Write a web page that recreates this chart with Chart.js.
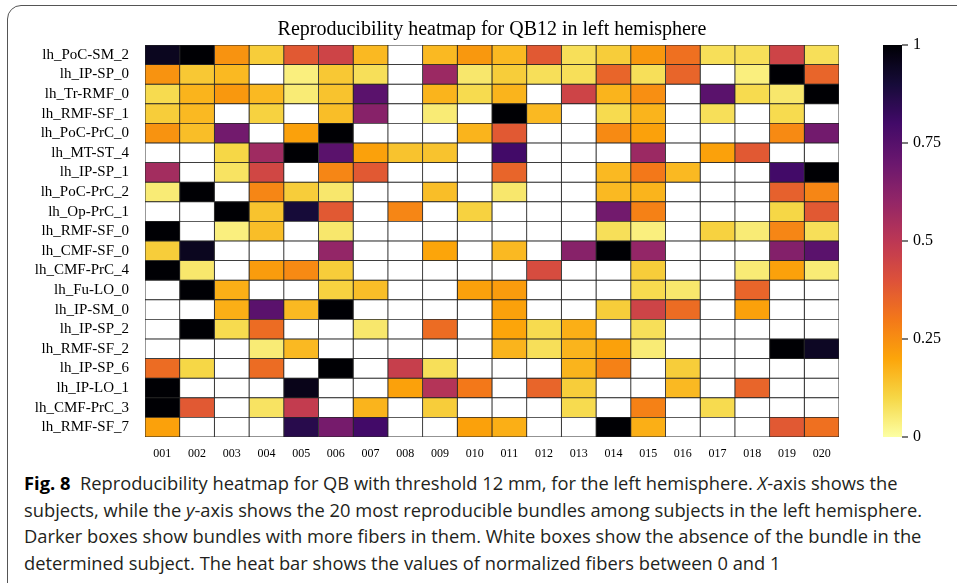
<!DOCTYPE html>
<html>
<head>
<meta charset="utf-8">
<script src="https://cdn.jsdelivr.net/npm/chart.js@4.4.1/dist/chart.umd.min.js"></script>
<style>
  html, body { margin: 0; padding: 0; background: #fff; }
  body { width: 957px; height: 583px; overflow: hidden; position: relative; }
  #frame { position: absolute; left: 7px; top: 5px; width: 990px; height: 640px; border: 1.5px solid #555; border-radius: 14px; box-sizing: border-box; }
  #wrap { position: absolute; left: 0; top: 0; width: 957px; height: 470px; }
  #caption { position: absolute; left: 24px; top: 470px; font-family: "Open Sans", "DejaVu Sans", sans-serif; font-size: 18px; line-height: 26.5px; color: #231f20; }
  #caption div { white-space: nowrap; transform-origin: 0 50%; display: inline-block; }
  #caption b { font-weight: 700; color: #000; }
</style>
</head>
<body>
<div id="frame"></div>
<div id="wrap"><canvas id="chart"></canvas></div>
<div id="caption">
  <div><b>Fig. 8</b>&nbsp; Reproducibility heatmap for QB with threshold 12 mm, for the left hemisphere. <i>X</i>-axis shows the</div><br>
  <div>subjects, while the <i>y</i>-axis shows the 20 most reproducible bundles among subjects in the left hemisphere.</div><br>
  <div>Darker boxes show bundles with more fibers in them. White boxes show the absence of the bundle in the</div><br>
  <div>determined subject. The heat bar shows the values of normalized fibers between 0 and 1</div>
</div>
<script>
const subjects = ["001", "002", "003", "004", "005", "006", "007", "008", "009", "010",
  "011", "012", "013", "014", "015", "016", "017", "018", "019", "020"];

const bundles = ["lh_PoC-SM_2", "lh_IP-SP_0", "lh_Tr-RMF_0", "lh_RMF-SF_1", "lh_PoC-PrC_0",
  "lh_MT-ST_4", "lh_IP-SP_1", "lh_PoC-PrC_2", "lh_Op-PrC_1", "lh_RMF-SF_0",
  "lh_CMF-SF_0", "lh_CMF-PrC_4", "lh_Fu-LO_0", "lh_IP-SM_0", "lh_IP-SP_2",
  "lh_RMF-SF_2", "lh_IP-SP_6", "lh_IP-LO_1", "lh_CMF-PrC_3", "lh_RMF-SF_7"];

// normalized fibers per bundle (row) and subject (column); null = bundle absent (white)
const _ = null;
const fibers = [
  [0.95, 1.00, 0.24, 0.12, 0.38, 0.45, 0.16, _, 0.16, 0.23, 0.16, 0.38, 0.08, 0.12, 0.23, 0.32, 0.08, 0.08, 0.45, 0.08],
  [0.24, 0.13, 0.16, _, 0.04, 0.13, 0.08, _, 0.58, 0.06, 0.12, 0.08, 0.08, 0.35, 0.08, 0.35, _, 0.04, 1.00, 0.35],
  [0.09, 0.17, 0.23, 0.16, 0.05, 0.14, 0.74, _, 0.17, 0.09, 0.17, _, 0.45, 0.17, 0.25, _, 0.74, 0.09, 0.06, 1.00],
  [0.12, 0.16, _, 0.11, _, 0.15, 0.63, _, 0.05, _, 1.00, 0.16, _, 0.09, 0.17, _, 0.08, _, 0.09, _],
  [0.24, 0.15, 0.68, _, 0.21, 1.00, _, _, _, 0.17, 0.38, _, _, 0.26, 0.21, _, _, _, 0.26, 0.68],
  [_, _, 0.10, 0.57, 1.00, 0.74, 0.21, 0.14, 0.14, _, 0.80, _, _, _, 0.58, _, 0.21, 0.38, _, _],
  [0.56, _, 0.07, 0.44, _, 0.27, 0.38, _, _, _, 0.35, _, _, 0.16, 0.30, 0.16, _, _, 0.80, 1.00],
  [0.05, 1.00, _, 0.27, 0.12, 0.06, _, _, 0.15, _, 0.06, _, _, 0.16, 0.17, _, _, _, 0.36, 0.27],
  [_, _, 1.00, 0.14, 0.90, 0.38, _, 0.27, _, 0.11, _, _, _, 0.68, 0.28, _, _, _, 0.10, 0.38],
  [1.00, _, 0.04, 0.15, _, 0.06, _, _, _, _, _, _, _, 0.08, 0.04, _, 0.11, 0.05, 0.27, 0.08],
  [0.12, 0.95, _, _, _, 0.60, _, _, 0.20, _, 0.16, _, 0.63, 1.00, 0.60, _, _, _, 0.64, 0.74],
  [1.00, 0.06, _, 0.22, 0.26, 0.12, _, _, _, _, _, 0.42, _, _, 0.12, _, _, 0.05, 0.21, 0.05],
  [_, 1.00, 0.18, _, _, 0.11, 0.15, _, _, 0.21, 0.22, _, _, _, 0.09, 0.06, _, 0.35, _, _],
  [_, _, 0.18, 0.74, 0.16, 1.00, _, _, _, _, 0.21, _, _, 0.12, 0.45, 0.33, _, 0.21, _, _],
  [_, 1.00, 0.09, 0.33, _, _, 0.06, _, 0.33, _, 0.20, 0.09, 0.18, _, 0.08, _, _, _, _, _],
  [_, _, _, 0.05, 0.16, _, _, _, _, _, 0.17, 0.08, 0.17, 0.21, 0.05, _, _, _, 1.00, 0.94],
  [0.33, 0.10, _, 0.33, _, 1.00, _, 0.47, 0.08, _, _, _, 0.17, 0.28, _, 0.12, _, _, _, _],
  [1.00, _, _, _, 0.96, _, _, 0.21, 0.52, 0.30, _, 0.35, 0.12, _, _, 0.16, _, 0.35, _, _],
  [1.00, 0.38, _, 0.07, 0.48, _, 0.17, _, 0.12, _, _, _, 0.09, _, 0.28, _, 0.09, _, _, _],
  [0.21, _, _, _, 0.86, 0.67, 0.80, _, _, 0.21, 0.18, _, _, 1.00, 0.18, _, _, _, 0.38, 0.32],
];

const barTicks = [0, 0.25, 0.5, 0.75, 1];

// reversed inferno colormap
const inferno = ["#000004", "#160b39", "#420a68", "#6a176e", "#932667", "#bc3754",
  "#dd513a", "#f37819", "#fca50a", "#f6d746", "#fcffa4"];

function hexToRgb(h) {
  return [parseInt(h.slice(1, 3), 16), parseInt(h.slice(3, 5), 16), parseInt(h.slice(5, 7), 16)];
}

function heatColor(v) {
  const t = (1 - v) * 10;
  const i = Math.min(9, Math.floor(t));
  const f = t - i;
  const a = hexToRgb(inferno[i]), b = hexToRgb(inferno[i + 1]);
  const c = a.map((x, k) => Math.round(x + (b[k] - x) * f));
  return "rgb(" + c.join(",") + ")";
}

const serif = "'Liberation Serif', 'Times New Roman', serif";

const datasets = subjects.map((s, j) => ({
  label: s,
  data: bundles.map(() => 1),
  backgroundColor: bundles.map((b, i) => fibers[i][j] === null ? "#ffffff" : heatColor(fibers[i][j])),
  borderColor: "#262626",
  borderWidth: 0.8,
  borderSkipped: false,
  categoryPercentage: 1,
  barPercentage: 1,
}));

const colorBar = {
  id: "colorBar",
  afterDraw(chart) {
    const ctx = chart.ctx;
    const area = chart.chartArea;
    const x0 = 883, x1 = 902;
    const grad = ctx.createLinearGradient(0, area.bottom, 0, area.top);
    for (let k = 0; k <= 50; k++) {
      grad.addColorStop(k / 50, heatColor(k / 50));
    }
    ctx.save();
    ctx.fillStyle = grad;
    ctx.fillRect(x0, area.top, x1 - x0, area.bottom - area.top);
    ctx.strokeStyle = "#222";
    ctx.lineWidth = 1.2;
    ctx.fillStyle = "#000";
    ctx.font = "16px " + serif;
    ctx.textBaseline = "middle";
    ctx.textAlign = "left";
    barTicks.forEach((t) => {
      const y = area.bottom - t * (area.bottom - area.top);
      ctx.beginPath();
      ctx.moveTo(x1, y);
      ctx.lineTo(x1 + 6, y);
      ctx.stroke();
      ctx.fillText(String(t), x1 + 11, y);
    });
    ctx.restore();
  },
};

new Chart(document.getElementById("chart"), {
  type: "bar",
  data: { labels: bundles, datasets: datasets },
  plugins: [colorBar],
  options: {
    indexAxis: "y",
    responsive: true,
    maintainAspectRatio: false,
    animation: false,
    layout: { padding: { left: 0, right: 118, top: 0, bottom: 0 } },
    scales: {
      x: {
        stacked: true,
        min: 0,
        max: subjects.length,
        grid: { display: false, drawTicks: false },
        border: { display: false },
        afterBuildTicks: (scale) => {
          scale.ticks = subjects.map((s, j) => ({ value: j + 0.5 }));
        },
        afterFit: (scale) => { scale.height = 33; },
        ticks: {
          autoSkip: false,
          maxRotation: 0,
          padding: 10,
          color: "#000",
          font: { family: serif, size: 12 },
          callback: (value, index) => subjects[index],
        },
      },
      y: {
        stacked: true,
        grid: { display: false, drawTicks: false },
        border: { display: false },
        afterFit: (scale) => { scale.width = 145; },
        ticks: {
          autoSkip: false,
          padding: 16,
          color: "#000",
          font: { family: serif, size: 15 },
        },
      },
    },
    plugins: {
      legend: { display: false },
      tooltip: {
        callbacks: {
          label: (c) => {
            const v = fibers[c.dataIndex][c.datasetIndex];
            return c.dataset.label + ": " + (v === null ? "absent" : v);
          },
        },
      },
      title: {
        display: true,
        fullSize: false,
        text: "Reproducibility heatmap for QB12 in left hemisphere",
        color: "#000",
        font: { family: serif, size: 20, weight: "normal", lineHeight: 1.2 },
        padding: { top: 18, bottom: 3 },
      },
    },
  },
});

// fit the caption lines to the width they take in the figure
const lines = document.querySelectorAll("#caption div");
const scale = 898 / lines[1].getBoundingClientRect().width;
lines.forEach((el) => { el.style.transform = "scaleX(" + scale + ")"; });
</script>
</body>
</html>
